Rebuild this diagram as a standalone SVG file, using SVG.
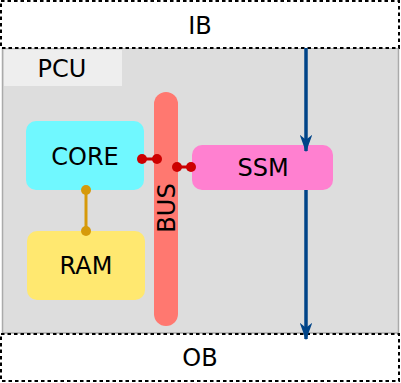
<svg xmlns="http://www.w3.org/2000/svg" width="401" height="383" viewBox="0 0 401 383">
  <style>
    text { font-family: "DejaVu Sans", sans-serif; font-size: 24px; fill: #000; text-anchor: middle; }
    .buf { fill: #fff; stroke: #000; stroke-width: 2; stroke-dasharray: 3.5 3; }
    .blk { stroke: none; }
    .link-red { stroke: #cc0000; stroke-width: 3; }
    .dot-red { fill: #cc0000; }
    .link-gold { stroke: #d69a0a; stroke-width: 3; }
    .dot-gold { fill: #d69a0a; }
    .flow { stroke: #004488; stroke-width: 3.5; fill: none; marker-end: url(#arrow); }
  </style>
  <defs>
    <marker id="arrow" viewBox="0 0 14 10" refX="13" refY="5" markerWidth="5" markerHeight="3.6" orient="auto" markerUnits="strokeWidth">
      <path d="M0,0 L14,5 L0,10 L4,5 Z" fill="#004488"/>
    </marker>
  </defs>

  <!-- processing unit background -->
  <g id="PCU">
    <rect x="2.5" y="48" width="396" height="285" fill="#dddddd" stroke="#aaaaaa" stroke-width="1.5"/>
    <rect x="4" y="50" width="118" height="36" fill="#eeeeee"/>
    <text x="62" y="77">PCU</text>
  </g>

  <g id="IB">
    <rect class="buf" x="1" y="1" width="398" height="47"/>
    <text x="200" y="34">IB</text>
  </g>

  <g id="OB">
    <rect class="buf" x="1" y="334" width="398" height="47"/>
    <text x="200" y="366">OB</text>
  </g>

  <g id="CORE">
    <rect class="blk" x="26" y="121" width="118" height="69" rx="10" fill="#70f8ff"/>
    <text x="85" y="165">CORE</text>
  </g>

  <g id="RAM">
    <rect class="blk" x="27" y="231" width="118" height="69" rx="10" fill="#ffe870"/>
    <text x="86" y="274">RAM</text>
  </g>

  <g id="BUS">
    <rect class="blk" x="154" y="92" width="24" height="234" rx="12" fill="#ff7870"/>
    <text transform="translate(166.5,208) rotate(-90)" dominant-baseline="central">BUS</text>
  </g>

  <g id="SSM">
    <rect class="blk" x="192" y="145" width="141" height="45" rx="10" fill="#ff80d0"/>
    <text x="263" y="176">SSM</text>
  </g>

  <g id="connectors">
    <line class="link-red" x1="142" y1="159" x2="157" y2="159"/>
    <circle class="dot-red" cx="142" cy="159" r="5"/>
    <circle class="dot-red" cx="157" cy="159" r="5"/>

    <line class="link-red" x1="177" y1="167" x2="191" y2="167"/>
    <circle class="dot-red" cx="177" cy="167" r="5"/>
    <circle class="dot-red" cx="191" cy="167" r="5"/>

    <line class="link-gold" x1="86" y1="190" x2="86" y2="231"/>
    <circle class="dot-gold" cx="86" cy="190" r="5"/>
    <circle class="dot-gold" cx="86" cy="231" r="5"/>

    <line class="flow" x1="306" y1="48" x2="306" y2="151"/>
    <line class="flow" x1="306" y1="190" x2="306" y2="339"/>
  </g>
</svg>
